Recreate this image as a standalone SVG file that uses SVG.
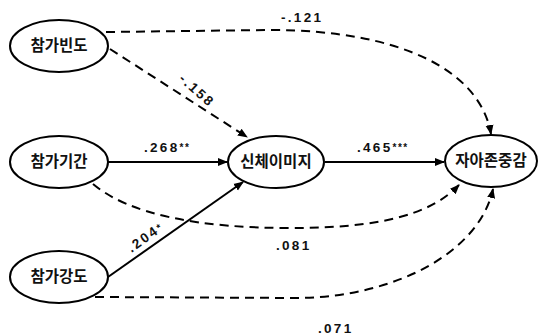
<svg xmlns="http://www.w3.org/2000/svg" width="541" height="336" viewBox="0 0 541 336">
<defs>
<marker id="ah" viewBox="0 0 10 10" refX="9" refY="5" markerWidth="5" markerHeight="5" orient="auto" markerUnits="strokeWidth">
<path d="M0,1 L10,5 L0,9 z" fill="#000" stroke="none"/>
</marker>
<style>
.node ellipse{fill:#fff;stroke:#000;stroke-width:2}
.node text{font-family:"Liberation Sans","Noto Sans CJK KR",sans-serif;font-weight:bold;font-size:15.5px;text-anchor:middle;fill:#111}
.solid{fill:none;stroke:#000;stroke-width:2;marker-end:url(#ah)}
.dash{fill:none;stroke:#000;stroke-width:2;stroke-dasharray:9,6;marker-end:url(#ah)}
.lbl{font-family:"Liberation Sans",Arial,sans-serif;font-weight:bold;font-size:13.5px;letter-spacing:2.3px;fill:#111}
.star{font-size:10px;letter-spacing:1.5px}
</style>
</defs>
<g id="connectors">
<path class="dash" d="M106 32 L270 30 C400 30 480 70 491 134"/>
<path class="dash" d="M110 49 L247 137"/>
<path class="solid" d="M108 162 L227 162"/>
<path class="solid" d="M325 162 L444 162"/>
<path class="dash" d="M93 184 C130 215 200 228 290 228 C380 228 430 215 459 185"/>
<path class="solid" d="M108 277 L243 182"/>
<path class="dash" d="M95 297 L300 298 C400 296 480 250 493 189"/>
</g>
<g id="labels">
<text class="lbl" x="281" y="22">-.121</text>
<text class="lbl" transform="translate(194 94) rotate(42)" text-anchor="middle">-.158</text>
<text class="lbl" x="144" y="152">.268<tspan class="star" dy="-1">**</tspan></text>
<text class="lbl" x="357" y="152">.465<tspan class="star" dy="-1">***</tspan></text>
<text class="lbl" transform="translate(148 241) rotate(-36)" text-anchor="middle">.204<tspan class="star" dy="-1">*</tspan></text>
<text class="lbl" x="276" y="250">.081</text>
<text class="lbl" x="318" y="333">.071</text>
</g>
<g id="n1" class="node"><ellipse cx="59" cy="46" rx="49" ry="26"/><text x="59" y="51">참가빈도</text></g>
<g id="n2" class="node"><ellipse cx="59" cy="162" rx="49" ry="26"/><text x="59" y="167">참가기간</text></g>
<g id="n3" class="node"><ellipse cx="59" cy="277" rx="49" ry="26"/><text x="59" y="282">참가강도</text></g>
<g id="n4" class="node"><ellipse cx="276" cy="162" rx="48" ry="26"/><text x="276" y="167">신체이미지</text></g>
<g id="n5" class="node"><ellipse cx="491" cy="161" rx="46" ry="26"/><text x="491" y="166">자아존중감</text></g>
</svg>
